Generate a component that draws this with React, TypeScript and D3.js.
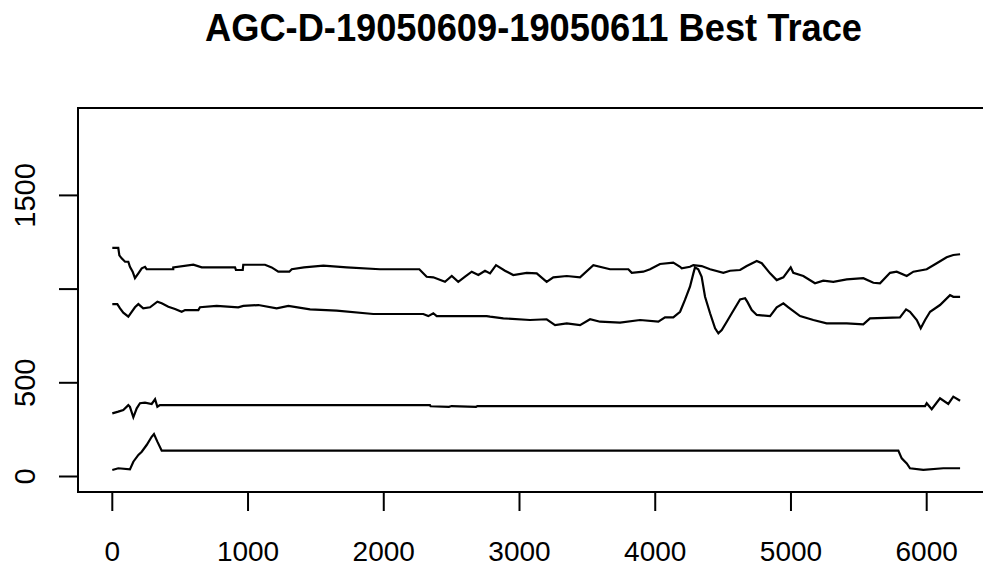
import React from "react";
import * as d3 from "d3";

const TITLE = "AGC-D-19050609-19050611 Best Trace";
const X_TICKS = [0, 1000, 2000, 3000, 4000, 5000, 6000];
const Y_TICKS = [0, 500, 1000, 1500];
const Y_TICK_LABELS = ["0", "500", "", "1500"];

// [index, value] pairs
const TRACE_TOP: [number, number][] = [
  [0, 1220], [44, 1220], [52, 1180], [69, 1164], [94, 1146], [118, 1146], [130, 1119], [150, 1093],
  [167, 1058], [192, 1084], [217, 1111], [241, 1119], [253, 1106], [449, 1106], [449, 1116], [597, 1130],
  [659, 1116], [904, 1116], [911, 1102], [961, 1102], [965, 1130], [1125, 1130], [1174, 1116], [1223, 1093],
  [1304, 1093], [1322, 1106], [1412, 1116], [1555, 1125], [1727, 1116], [1972, 1106], [2262, 1106],
  [2316, 1066], [2365, 1063], [2451, 1039], [2501, 1070], [2549, 1039], [2599, 1066], [2648, 1093],
  [2697, 1075], [2746, 1098], [2783, 1084], [2827, 1128], [2893, 1098], [2954, 1075], [3053, 1087],
  [3127, 1084], [3200, 1039], [3249, 1063], [3348, 1070], [3446, 1063], [3544, 1128], [3667, 1106],
  [3802, 1106], [3827, 1087], [3912, 1093], [3962, 1106], [4035, 1134], [4133, 1141], [4183, 1119],
  [4195, 1111], [4256, 1119], [4281, 1128], [4342, 1123], [4404, 1106], [4502, 1087], [4551, 1098],
  [4625, 1102], [4674, 1123], [4748, 1150], [4785, 1138], [4846, 1084], [4895, 1048], [4944, 1063],
  [4998, 1116], [5017, 1087], [5091, 1070], [5177, 1031], [5238, 1045], [5312, 1039], [5411, 1052],
  [5533, 1058], [5607, 1034], [5656, 1031], [5730, 1087], [5779, 1093], [5853, 1070], [5902, 1093],
  [6000, 1106], [6074, 1138], [6147, 1170], [6196, 1182], [6246, 1186],
];

const TRACE_SECOND: [number, number][] = [
  [0, 920], [37, 920], [57, 897], [81, 874], [118, 853], [143, 879], [167, 903], [192, 920], [228, 897],
  [278, 903], [332, 933], [364, 924], [413, 906], [462, 894], [511, 879], [536, 888], [634, 888], [646, 903],
  [769, 910], [928, 903], [965, 910], [1076, 915], [1211, 897], [1297, 910], [1457, 892], [1653, 885],
  [1923, 867], [2291, 867], [2328, 856], [2365, 871], [2390, 856], [2758, 856], [2783, 853], [2881, 844],
  [3077, 835], [3200, 839], [3262, 808], [3348, 817], [3446, 808], [3520, 839], [3594, 826], [3741, 821],
  [3888, 835], [4023, 826], [4072, 849], [4133, 849], [4183, 879], [4219, 942], [4256, 1013], [4281, 1084],
  [4293, 1116], [4317, 1106], [4342, 1066], [4367, 959], [4404, 871], [4441, 791], [4465, 764], [4490, 782],
  [4527, 826], [4564, 871], [4625, 945], [4662, 951], [4678, 933], [4711, 888], [4748, 862], [4846, 856],
  [4895, 903], [4944, 924], [4981, 903], [5067, 856], [5165, 835], [5263, 817], [5411, 817], [5533, 812],
  [5582, 844], [5803, 849], [5848, 892], [5877, 879], [5927, 835], [5956, 791], [5988, 835], [6025, 879],
  [6098, 915], [6172, 968], [6196, 959], [6246, 959],
];

const TRACE_THIRD: [number, number][] = [
  [0, 337], [44, 346], [81, 355], [118, 381], [130, 372], [155, 316], [180, 364], [204, 391], [241, 394],
  [290, 387], [315, 412], [332, 372], [351, 381], [2340, 381], [2345, 375], [2480, 372], [2500, 376],
  [2680, 372], [2690, 376], [5988, 376], [6000, 391], [6037, 359], [6098, 417], [6159, 387], [6196, 426],
  [6246, 404],
];

const TRACE_BOTTOM: [number, number][] = [
  [0, 35], [44, 44], [130, 38], [155, 79], [192, 115], [217, 132], [253, 168], [290, 212], [307, 227],
  [332, 186], [364, 138], [5791, 138], [5816, 97], [5853, 70], [5877, 44], [5975, 35], [6122, 44], [6246, 44],
];

const TRACES = [TRACE_TOP, TRACE_SECOND, TRACE_THIRD, TRACE_BOTTOM];

export default function App() {
  const W = 983;
  const H = 571;
  const x = d3.scaleLinear().domain([0, 6000]).range([112.3, 926.7]);
  const y = d3.scaleLinear().domain([0, 1500]).range([476.5, 195.4]);
  const boxLeft = 78;
  const boxTop = 108;
  const boxBottom = 492;
  const line = d3
    .line<[number, number]>()
    .x((d) => x(d[0]))
    .y((d) => y(d[1]));

  return (
    <svg
      width={W}
      height={H}
      style={{ position: "absolute", left: 0, top: 0, background: "#fff" }}
      fontFamily="'Liberation Sans', Arial, sans-serif"
    >
      <rect x={0} y={0} width={W} height={H} fill="#fff" />
      <text
        x={533.5}
        y={41}
        textAnchor="middle"
        fontSize={38}
        fontWeight="bold"
        fill="#000"
        textLength={657}
        lengthAdjust="spacingAndGlyphs"
      >
        {TITLE}
      </text>
      <rect
        x={boxLeft}
        y={boxTop}
        width={1100}
        height={boxBottom - boxTop}
        fill="none"
        stroke="#000"
        strokeWidth={2}
      />
      {TRACES.map((t, i) => (
        <path key={i} d={line(t) || ""} fill="none" stroke="#000" strokeWidth={2.2} strokeLinejoin="miter" />
      ))}
      {X_TICKS.map((v) => (
        <g key={"x" + v}>
          <line x1={x(v)} x2={x(v)} y1={boxBottom} y2={511} stroke="#000" strokeWidth={2} />
          <text x={x(v)} y={561} textAnchor="middle" fontSize={28} fill="#000">
            {String(v)}
          </text>
        </g>
      ))}
      {Y_TICKS.map((v, i) => (
        <g key={"y" + v}>
          <line x1={59} x2={boxLeft} y1={y(v)} y2={y(v)} stroke="#000" strokeWidth={2} />
          {Y_TICK_LABELS[i] && (
            <text
              transform={`translate(35,${y(v)}) rotate(-90)`}
              textAnchor="middle"
              fontSize={29}
              fill="#000"
            >
              {Y_TICK_LABELS[i]}
            </text>
          )}
        </g>
      ))}
    </svg>
  );
}
